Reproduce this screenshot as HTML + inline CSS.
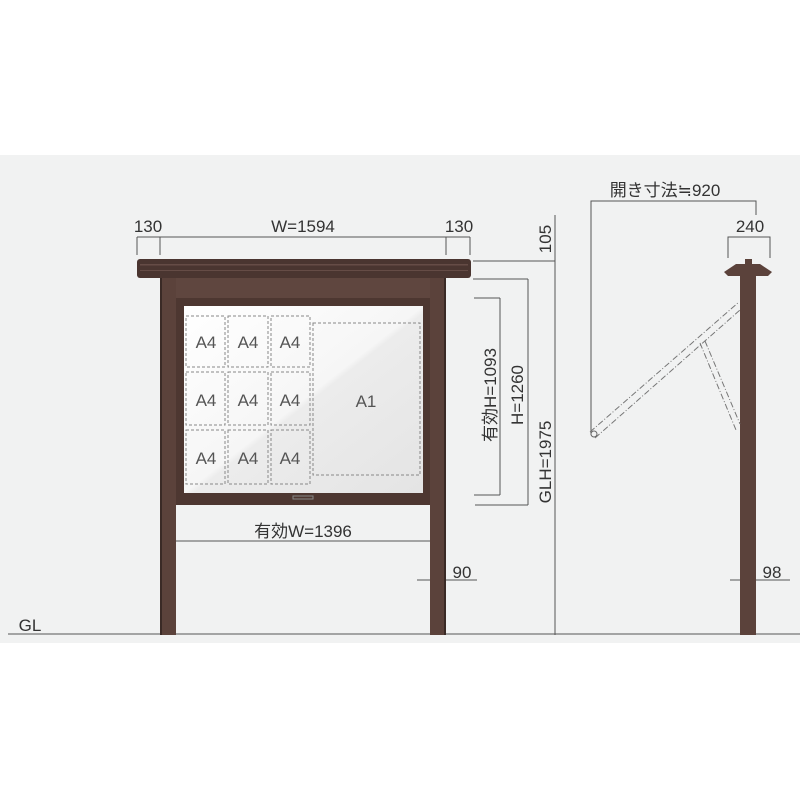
<!DOCTYPE html>
<html><head><meta charset="utf-8"><style>
html,body{margin:0;padding:0;background:#fff;}
svg{display:block}
text{font-family:"Liberation Sans","Noto Sans CJK JP",sans-serif;fill:#333;}
</style></head><body>
<svg width="800" height="800" viewBox="0 0 800 800" xmlns="http://www.w3.org/2000/svg">
<defs>
<linearGradient id="gl" x1="0" y1="0" x2="1" y2="1">
<stop offset="0" stop-color="#ffffff"/><stop offset="0.5" stop-color="#f6f6f6"/><stop offset="0.52" stop-color="#ececec"/><stop offset="1" stop-color="#e4e4e4"/>
</linearGradient>
</defs>
<rect x="0" y="155" width="800" height="488" fill="#f1f2f2"/>
<g stroke="#555" stroke-width="1" fill="none">
<line x1="137" y1="237" x2="470" y2="237"/>
<line x1="137" y1="237" x2="137" y2="255"/><line x1="160" y1="237" x2="160" y2="255"/>
<line x1="446" y1="237" x2="446" y2="255"/><line x1="470" y1="237" x2="470" y2="255"/>
<line x1="555" y1="215" x2="555" y2="635"/>
<line x1="473" y1="261" x2="555" y2="261"/>
<line x1="473" y1="279" x2="528" y2="279"/>
<line x1="528" y1="279" x2="528" y2="505"/>
<line x1="475" y1="505" x2="528" y2="505"/>
<line x1="474" y1="298" x2="500" y2="298"/>
<line x1="500" y1="298" x2="500" y2="495"/>
<line x1="474" y1="495" x2="500" y2="495"/>
<line x1="417" y1="580" x2="477" y2="580"/>
<line x1="8" y1="634" x2="800" y2="634"/>
<line x1="168" y1="541" x2="440" y2="541"/>
<line x1="168" y1="518" x2="168" y2="541"/><line x1="440" y1="518" x2="440" y2="541"/>
<polyline points="591,435 591,201 756,201 756,215"/>
<polyline points="728,258 728,237 770,237 770,258"/>
<line x1="730" y1="580" x2="790" y2="580"/>
</g>
<rect x="137" y="259" width="334" height="19" rx="3" fill="#4a3530"/>
<rect x="140" y="264" width="328" height="1.5" fill="#654c46"/>
<rect x="140" y="270" width="328" height="1" fill="#654c46"/>
<rect x="160" y="278" width="16" height="357" fill="#5b423b"/>
<rect x="430" y="278" width="16" height="357" fill="#5b423b"/>
<rect x="160" y="278" width="2" height="357" fill="#3a2a26"/>
<rect x="444" y="278" width="2" height="357" fill="#3a2a26"/>
<rect x="176" y="278" width="254" height="227" fill="#5f463f"/>
<rect x="176" y="298" width="254" height="207" fill="#4d3731"/>
<rect x="184" y="306" width="239" height="187" fill="url(#gl)"/>
<rect x="293" y="496" width="20" height="3" fill="none" stroke="#888" stroke-width="1"/>
<g stroke="#888" stroke-width="1" stroke-dasharray="3,2" fill="none">
<rect x="186" y="316" width="39" height="51"/><rect x="228" y="316" width="40" height="51"/><rect x="271" y="316" width="39" height="51"/>
<rect x="186" y="372" width="39" height="53"/><rect x="228" y="372" width="40" height="53"/><rect x="271" y="372" width="39" height="53"/>
<rect x="186" y="430" width="39" height="54"/><rect x="228" y="430" width="40" height="54"/><rect x="271" y="430" width="39" height="54"/>
<rect x="313" y="323" width="107" height="152"/>
</g>
<g font-size="17" text-anchor="middle">
<text x="206" y="348" style="fill:#555">A4</text><text x="248" y="348" style="fill:#555">A4</text><text x="290" y="348" style="fill:#555">A4</text>
<text x="206" y="406" style="fill:#555">A4</text><text x="248" y="406" style="fill:#555">A4</text><text x="290" y="406" style="fill:#555">A4</text>
<text x="206" y="464" style="fill:#555">A4</text><text x="248" y="464" style="fill:#555">A4</text><text x="290" y="464" style="fill:#555">A4</text>
<text x="366" y="407" style="fill:#555">A1</text>
</g>
<rect x="740" y="276" width="16" height="359" fill="#5b423b"/>
<polygon points="724,272 736,264 760,264 772,272 768,276 728,276" fill="#5b423b"/>
<rect x="745" y="259" width="7" height="6" fill="#5b423b"/>
<g stroke="#777" stroke-width="1" fill="none" stroke-dasharray="6,2,1,2">
<line x1="590" y1="432" x2="739" y2="302"/><line x1="595" y1="438" x2="740" y2="310"/>
<line x1="700" y1="343" x2="736" y2="430"/><line x1="705" y1="341" x2="740" y2="424"/>
</g>
<circle cx="594" cy="434" r="3" fill="none" stroke="#666"/>
<g font-size="17" text-anchor="middle">
<text x="148" y="232">130</text>
<text x="303" y="232">W=1594</text>
<text x="459" y="232">130</text>
<text x="303" y="537">有効W=1396</text>
<text x="462" y="578">90</text>
<text x="30" y="631">GL</text>
<text x="665" y="196">開き寸法≒920</text>
<text x="750" y="232">240</text>
<text x="772" y="578">98</text>
<text transform="translate(551,239) rotate(-90)">105</text>
<text transform="translate(496,395) rotate(-90)">有効H=1093</text>
<text transform="translate(523,395) rotate(-90)">H=1260</text>
<text transform="translate(551,462) rotate(-90)">GLH=1975</text>
</g>
</svg>
</body></html>
